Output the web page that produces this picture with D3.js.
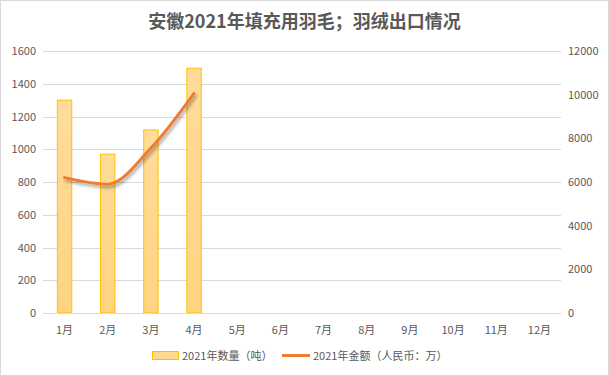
<!DOCTYPE html>
<html>
<head>
<meta charset="utf-8">
<script src="https://cdn.jsdelivr.net/npm/d3@7"></script>
<style>
  html, body { margin: 0; padding: 0; background: #fff; }
  svg text { font-family: "Noto Sans CJK SC", "Noto Sans", sans-serif; }
</style>
</head>
<body>
<div id="container"></div>
<script>
const width = 609, height = 376;
const margin = { top: 51, right: 48, bottom: 63, left: 43 };
const iw = width - margin.left - margin.right;
const ih = height - margin.top - margin.bottom;

// Data
const months = ["1月", "2月", "3月", "4月", "5月", "6月", "7月", "8月", "9月", "10月", "11月", "12月"];
const quantity = [1300, 970, 1118, 1495];      // 2021年数量（吨）
const amount = [6200, 5900, 7550, 10060];        // 2021年金额（人民币：万）
const leftTicks = [0, 200, 400, 600, 800, 1000, 1200, 1400, 1600];
const rightTicks = [0, 2000, 4000, 6000, 8000, 10000, 12000];

const svg = d3.select("#container").append("svg")
  .attr("width", width).attr("height", height);

// Chart border
svg.append("rect")
  .attr("x", 0.5).attr("y", 0.5)
  .attr("width", width - 1).attr("height", height - 1)
  .attr("fill", "#fff").attr("stroke", "#d9d9d9");

const defs = svg.append("defs");
const grad = defs.append("linearGradient")
  .attr("id", "barGrad").attr("x1", 0).attr("y1", 0).attr("x2", 0).attr("y2", 1);
grad.append("stop").attr("offset", "0%").attr("stop-color", "#ffdc9c");
grad.append("stop").attr("offset", "100%").attr("stop-color", "#ffd480");

const shadow = defs.append("filter").attr("id", "shadow")
  .attr("x", "-20%").attr("y", "-20%").attr("width", "140%").attr("height", "140%");
shadow.append("feDropShadow")
  .attr("dx", 1.5).attr("dy", 2.5).attr("stdDeviation", 1.6)
  .attr("flood-color", "#000").attr("flood-opacity", 0.35);

const g = svg.append("g").attr("transform", `translate(${margin.left},${margin.top})`);

const x = d3.scaleBand().domain(months).range([0, iw]).paddingInner(0.667).paddingOuter(0.333);
const y = d3.scaleLinear().domain([0, 1600]).range([ih, 0]);
const y2 = d3.scaleLinear().domain([0, 12000]).range([ih, 0]);

// Gridlines
g.selectAll(".grid").data(leftTicks.filter(d => d > 0)).join("line")
  .attr("x1", 0).attr("x2", iw)
  .attr("y1", d => Math.round(y(d)) + 0.5).attr("y2", d => Math.round(y(d)) + 0.5)
  .attr("stroke", "#d9d9d9");

// Bars
g.selectAll(".bar").data(quantity).join("rect")
  .attr("x", (d, i) => x(months[i]))
  .attr("y", d => y(d))
  .attr("width", x.bandwidth())
  .attr("height", d => ih - y(d))
  .attr("fill", "url(#barGrad)")
  .attr("stroke", "#ffc000")
  .attr("stroke-width", 1);

// Bottom axis line
g.append("line")
  .attr("x1", 0).attr("x2", iw)
  .attr("y1", ih + 0.5).attr("y2", ih + 0.5)
  .attr("stroke", "#d9d9d9");

// Line series
const lineGen = d3.line()
  .x((d, i) => x(months[i]) + x.bandwidth() / 2)
  .y(d => y2(d))
  .curve(d3.curveMonotoneX);

g.append("path")
  .datum(amount)
  .attr("fill", "none")
  .attr("stroke", "#ed7d31")
  .attr("stroke-width", 3)
  .attr("stroke-linecap", "round")
  .attr("stroke-linejoin", "round")
  .attr("filter", "url(#shadow)")
  .attr("d", lineGen);

// Axis labels
const tickStyle = s => s.attr("fill", "#595959").style("font-size", "11px");

g.selectAll(".ly").data(leftTicks).join("text")
  .attr("x", -7).attr("y", d => y(d) + 4)
  .attr("text-anchor", "end")
  .call(tickStyle)
  .text(d => d);

g.selectAll(".ry").data(rightTicks).join("text")
  .attr("x", iw + 7).attr("y", d => y2(d) + 4)
  .attr("text-anchor", "start")
  .call(tickStyle)
  .text(d => d);

g.selectAll(".xl").data(months).join("text")
  .attr("x", d => x(d) + x.bandwidth() / 2).attr("y", ih + 21)
  .attr("text-anchor", "middle")
  .call(tickStyle)
  .text(d => d);

// Title
svg.append("text")
  .attr("x", width / 2).attr("y", 28)
  .attr("text-anchor", "middle")
  .attr("fill", "#595959")
  .style("font-size", "18px")
  .style("font-weight", "bold")
  .text("安徽2021年填充用羽毛；羽绒出口情况");

// Legend
const lg = svg.append("g");
lg.append("rect")
  .attr("x", 152.5).attr("y", 351.5).attr("width", 26).attr("height", 8)
  .attr("fill", "#ffd98f").attr("stroke", "#ffc000");
lg.append("text")
  .attr("x", 182).attr("y", 359.5)
  .call(tickStyle)
  .text("2021年数量（吨）");
lg.append("line")
  .attr("x1", 282).attr("x2", 310).attr("y1", 355.5).attr("y2", 355.5)
  .attr("stroke", "#ed7d31").attr("stroke-width", 3);
lg.append("text")
  .attr("x", 313).attr("y", 359.5)
  .call(tickStyle)
  .text("2021年金额（人民币：万）");
</script>
</body>
</html>
